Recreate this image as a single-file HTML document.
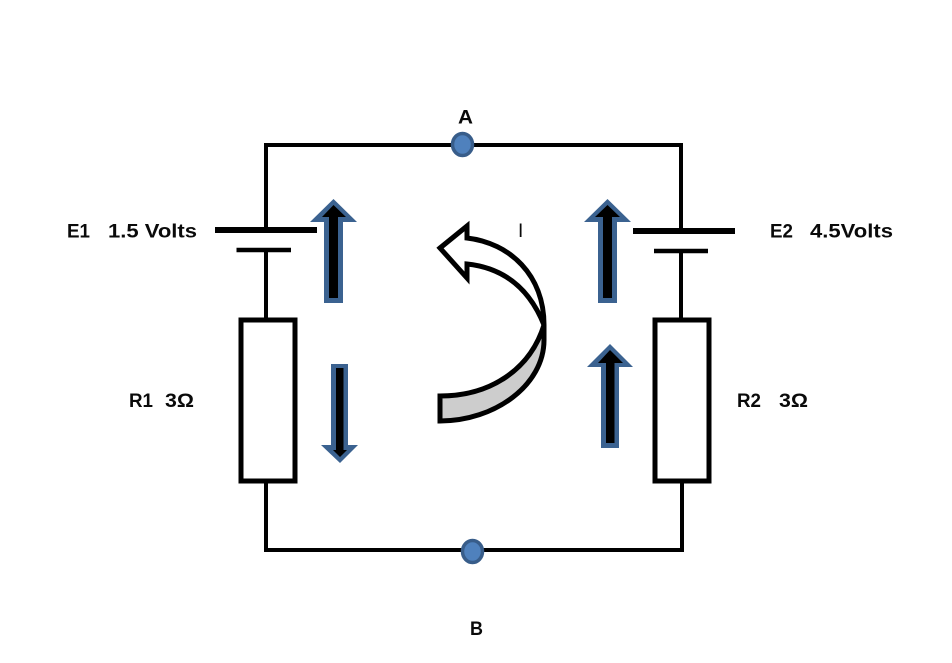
<!DOCTYPE html>
<html>
<head>
<meta charset="utf-8">
<style>
html,body{margin:0;padding:0;background:#fff;}
svg{display:block;}
text{font-family:"Liberation Sans",sans-serif;font-weight:bold;font-size:19px;fill:#0a0a0a;}
</style>
</head>
<body>
<svg width="952" height="663" viewBox="0 0 952 663" xmlns="http://www.w3.org/2000/svg">
<rect width="952" height="663" fill="#fff"/>
<g fill="none" stroke="#000" stroke-width="4">
<path d="M266,230 V145 H681 V231"/>
<path d="M266,250 V320 M266,481 V550 H682 V481 M681,251 V320"/>
<rect x="241" y="320" width="54" height="161" stroke-width="5"/>
<rect x="655" y="320" width="54" height="161" stroke-width="5"/>
<path d="M215,230 H317" stroke-width="6"/>
<path d="M236.500,250 H291" stroke-width="4.500"/>
<path d="M633,231 H735" stroke-width="6"/>
<path d="M654,251 H708" stroke-width="4.500"/>
</g>
<g fill="#3B6290">
<polygon points="333.500,199 310,222 324,222 324,303 343,303 343,222 357,222"/>
<polygon points="607.500,199 584,222 598,222 598,303 617,303 617,222 631,222"/>
<polygon points="610,344 587,367 601,367 601,448 619,448 619,367 633,367"/>
<polygon points="340,463 321,445 331,445 331,364 348,364 348,445 358,445"/>
</g>
<g fill="#000">
<polygon points="333.500,205 322,217 329,217 329,298 338,298 338,217 346,217"/>
<polygon points="607.500,205 595,217 603,217 603,298 612,298 612,217 620,217"/>
<polygon points="610,350 598,363 606,363 606,443 614.500,443 614.500,363 623,363"/>
<polygon points="340,457 333,450 336,450 336,368 343.500,368 343.500,450 347,450"/>
</g>
<g stroke="#000" stroke-width="5" stroke-linejoin="miter">
<path d="M440,396 C490,396 530,370 544,325 L544,340 C544,385 495,421 440,421 Z" fill="#cdcdcd"/>
<path d="M440,248 L467,226 L467,238 C510,243 544,275 544,325 C530,290 505,268 467,264 L467,278 Z" fill="#fff"/>
</g>
<ellipse cx="462.500" cy="144.500" rx="10" ry="11" fill="#4F81BD" stroke="#385D8A" stroke-width="3.500"/>
<ellipse cx="472.500" cy="551.500" rx="10" ry="11" fill="#4F81BD" stroke="#385D8A" stroke-width="3.500"/>
<text x="458" y="123.500" textLength="15" lengthAdjust="spacingAndGlyphs">A</text>
<text x="470" y="635" textLength="13" lengthAdjust="spacingAndGlyphs">B</text>
<text x="67" y="237.500" textLength="23" lengthAdjust="spacingAndGlyphs">E1</text>
<text x="108" y="237.500" textLength="89" lengthAdjust="spacingAndGlyphs">1.5 Volts</text>
<text x="770" y="237.500" textLength="23" lengthAdjust="spacingAndGlyphs">E2</text>
<text x="810" y="237.500" textLength="83" lengthAdjust="spacingAndGlyphs">4.5Volts</text>
<text x="129" y="407" textLength="24" lengthAdjust="spacingAndGlyphs">R1</text>
<text x="165" y="407" textLength="29" lengthAdjust="spacingAndGlyphs">3Ω</text>
<text x="737" y="407" textLength="24" lengthAdjust="spacingAndGlyphs">R2</text>
<text x="779" y="407" textLength="29" lengthAdjust="spacingAndGlyphs">3Ω</text>
<text x="518" y="237" style="font-weight:normal;font-size:19px">I</text>
</svg>
</body>
</html>
